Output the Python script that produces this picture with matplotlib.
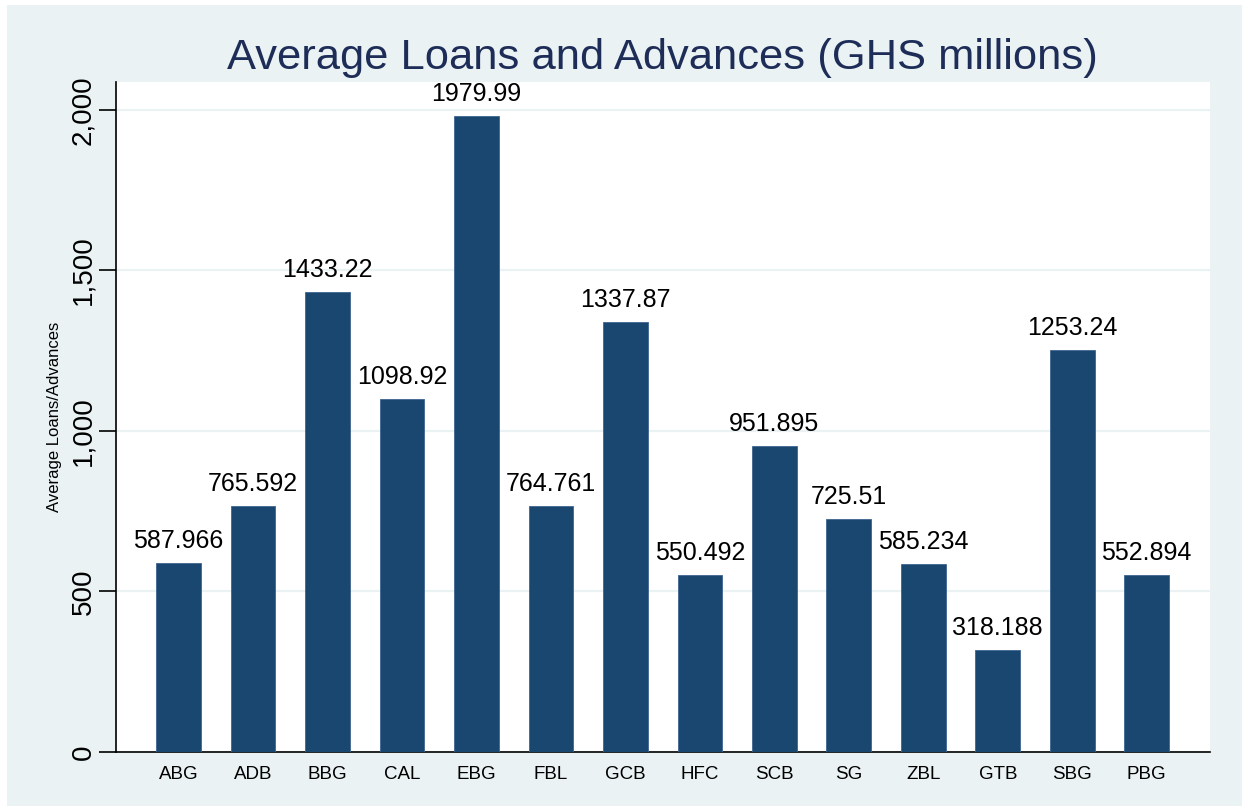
import matplotlib.pyplot as plt
from matplotlib.patches import Rectangle

banks = ["ABG", "ADB", "BBG", "CAL", "EBG", "FBL", "GCB", "HFC", "SCB", "SG", "ZBL", "GTB", "SBG", "PBG"]
avg_loans = [587.966, 765.592, 1433.22, 1098.92, 1979.99, 764.761, 1337.87, 550.492, 951.895, 725.51, 585.234, 318.188, 1253.24, 552.894]
value_labels = ["587.966", "765.592", "1433.22", "1098.92", "1979.99", "764.761", "1337.87", "550.492", "951.895", "725.51", "585.234", "318.188", "1253.24", "552.894"]
y_ticks = [0, 500, 1000, 1500, 2000]
y_tick_labels = ["0", "500", "1,000", "1,500", "2,000"]

plt.rcParams["font.family"] = ["Liberation Sans", "DejaVu Sans"]

W, H = 1248, 811
fig = plt.figure(figsize=(W / 100, H / 100), dpi=100, facecolor="white")
# stata-style outer background
fig.patches.append(Rectangle((7 / W, 5 / H), (1242 - 7) / W, (806 - 5) / H,
                             transform=fig.transFigure, facecolor="#EAF2F3",
                             edgecolor="none", zorder=-1))

ax = fig.add_axes([116 / W, 1 - 752 / H, (1210 - 116) / W, (752 - 82) / H])
ax.set_zorder(1)
ax.set_facecolor("white")

x = list(range(len(banks)))
ax.bar(x, avg_loans, width=0.6, color="#1A476F", edgecolor="#3E6590", linewidth=0.6, zorder=3)
for xi, v, lab in zip(x, avg_loans, value_labels):
    ax.annotate(lab, (xi, v), xytext=(0, 10), textcoords="offset pixels",
                ha="center", va="bottom", fontsize=18, color="black", zorder=4)

ax.set_xlim(-0.84, 13.85)
ax.set_ylim(0, 2087)
ax.set_xticks(x)
ax.set_xticklabels(banks, fontsize=13.5)
ax.tick_params(axis="x", length=0, pad=10)
ax.set_yticks(y_ticks)
ax.set_yticklabels(y_tick_labels, fontsize=20, rotation=90, va="center")
ax.tick_params(axis="y", length=12, width=1.2, pad=2)

ax.grid(axis="y", color="#EAF2F3", linewidth=1.6, zorder=0)
ax.set_axisbelow(True)
for side in ["top", "right"]:
    ax.spines[side].set_visible(False)
for side in ["left", "bottom"]:
    ax.spines[side].set_linewidth(1.2)

ax.set_ylabel("Average Loans/Advances", fontsize=12)
ax.yaxis.set_label_coords(55 / W, 1 - 417 / H, transform=fig.transFigure)
ax.yaxis.label.set_va("center")
fig.text(662 / W, 1 - 58 / H, "Average Loans and Advances (GHS millions)", ha="center", va="center",
         fontsize=31.3, color="#1E2D58")

fig.savefig("out.png", dpi=100, facecolor="white")
